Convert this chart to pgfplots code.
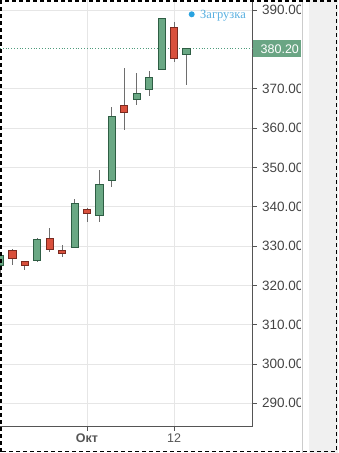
\documentclass[border=0pt]{standalone}
\usepackage{pgfplots}
\pgfplotsset{compat=1.18}
\usepgfplotslibrary{statistics}
\usepackage{fontspec}
\setmainfont{Liberation Sans}
\newfontfamily\serifcyr{Liberation Serif}
\definecolor{gfill}{HTML}{6AA884}
\definecolor{gdark}{HTML}{2E5E44}
\definecolor{rfill}{HTML}{D9503C}
\definecolor{rdark}{HTML}{7A2A20}
\definecolor{wickc}{HTML}{6E6E6E}
\definecolor{gridc}{HTML}{E6E6E6}
\definecolor{axisc}{HTML}{555555}
\definecolor{labc}{HTML}{444444}
\definecolor{priceg}{HTML}{6AA584}
\definecolor{dotc}{HTML}{4F9C7C}
\definecolor{loadc}{HTML}{5AB0E0}
\definecolor{dotblue}{HTML}{2AA3E0}
\definecolor{panelc}{HTML}{F0F0F0}
\definecolor{sepc}{HTML}{CCCCCC}
\pgfplotsset{
  candle/.style={solid, line width=0.9pt,
    boxplot/draw direction=y,
    boxplot/box extend=0.58, boxplot/whisker extend=0,
    boxplot/every whisker/.style={draw=wickc, line width=0.8pt}},
  up/.style={candle, draw=gdark,
    boxplot/every box/.style={draw=gdark, fill=gfill},
    boxplot/every median/.style={draw=gdark}},
  down/.style={candle, draw=rdark,
    boxplot/every box/.style={draw=rdark, fill=rfill},
    boxplot/every median/.style={draw=rdark}},
}
% candle: style, draw position, low, min(o,c), max(o,c), high
\newcommand{\candle}[6]{\addplot[#1, boxplot prepared={draw position=#2, lower whisker=#3, lower quartile=#4, median=#4, upper quartile=#5, upper whisker=#6}] coordinates {};}
\begin{document}
\begin{tikzpicture}
\useasboundingbox (0pt,-26.3pt) rectangle (338pt,426.7pt);
\begin{axis}[
  at={(0pt,0pt)}, anchor=south west,
  scale only axis, width=252.5pt, height=426.7pt,
  xmin=0, xmax=20.31, ymin=284.05, ymax=392.62,
  axis x line*=bottom, axis y line*=right,
  axis line style={draw=axisc, line width=1pt},
  xtick={7,14}, xticklabels={\textbf{Окт},12},
  ytick={290,300,310,320,330,340,350,360,370,390},
  grid=major, major grid style={draw=gridc, line width=0.8pt},
  tick style={draw=axisc, line width=0.8pt},
  major tick length=4pt, tick align=outside,
  /pgf/number format/assume math mode=true,
  yticklabel style={anchor=west, inner sep=0pt, xshift=5.5pt, font=\fontsize{13.5}{15}\selectfont, text=labc,
    /pgf/number format/.cd, fixed, fixed zerofill, precision=2, 1000 sep={}},
  xticklabel style={font=\fontsize{12.5}{14}\selectfont, text=axisc},
  clip mode=individual,
]
\addplot[dotc, dotted, line width=0.8pt] coordinates {(0,380.2) (20.31,380.2)};
\candle{up}{0}{323.0}{325.2}{327.7}{328.5}
\candle{down}{1}{325.2}{326.9}{329.0}{329.3}
\candle{down}{2}{323.8}{325.2}{326.0}{326.3}
\candle{up}{3}{326.0}{326.3}{331.7}{332.1}
\candle{down}{4}{328.6}{329.2}{332.0}{334.5}
\candle{down}{5}{327.2}{328.2}{329.0}{330.3}
\candle{up}{6}{329.5}{329.7}{340.9}{342.0}
\candle{down}{7}{336.1}{338.3}{339.4}{339.8}
\candle{up}{8}{336.2}{337.8}{345.7}{349.4}
\candle{up}{9}{345.0}{346.6}{363.1}{365.3}
\candle{down}{10}{359.5}{364.0}{365.7}{375.4}
\candle{up}{11}{365.9}{367.4}{368.9}{374.0}
\candle{up}{12}{368.3}{369.9}{372.9}{374.6}
\candle{up}{13}{375.0}{375.0}{387.8}{388.0}
\candle{down}{14}{376.9}{377.8}{385.7}{386.9}
\candle{up}{15}{371.0}{378.8}{380.2}{380.2}
\coordinate (p) at (axis cs:20.31,380.2);
\end{axis}
\fill[white] (300.8pt,-26.3pt) rectangle (338pt,426.7pt);
\fill[priceg] ([yshift=-8.5pt]p) rectangle ([xshift=48.5pt,yshift=8.5pt]p);
\node[anchor=west, inner sep=0pt, text=white, font=\fontsize{12.5}{14}\selectfont] at ([xshift=8pt]p) {380.20};
\draw[sepc, line width=0.8pt] (302.7pt,-26.3pt) -- (302.7pt,426.7pt);
\fill[panelc] (309.3pt,-26.3pt) rectangle (338pt,426.7pt);
\fill[dotblue] (191.7pt,412.4pt) circle (3pt);
\node[anchor=base west, inner sep=0pt, text=loadc, font=\serifcyr\fontsize{12.5}{14}\selectfont] at (200pt,408.4pt) {Загрузка};
\draw[black, line width=1.1pt, dash pattern=on 4pt off 3pt] (1pt,-25.2pt) rectangle (336.7pt,425.7pt);
\end{tikzpicture}
\end{document}
